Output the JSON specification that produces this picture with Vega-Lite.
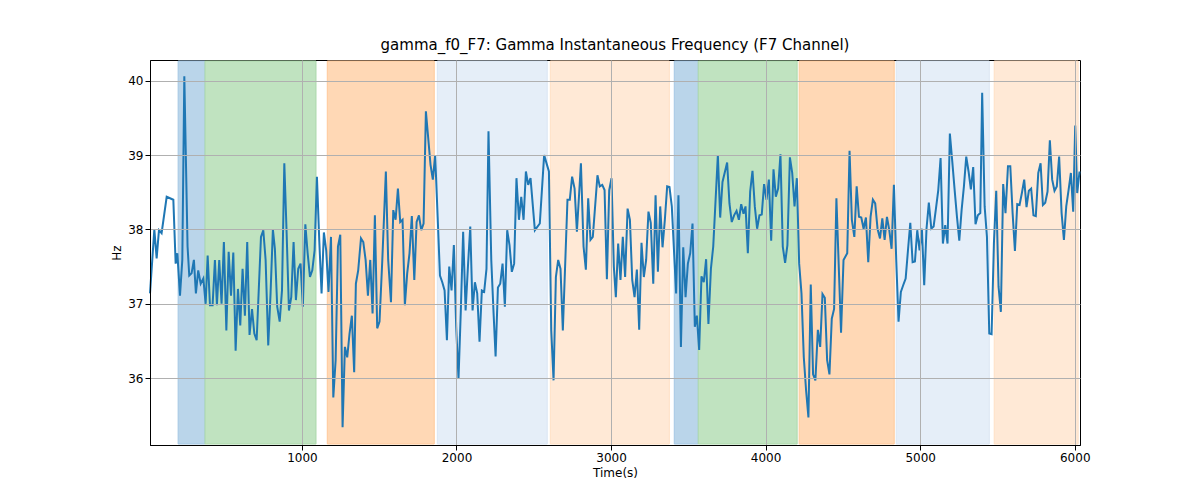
{
  "$schema": "https://vega.github.io/schema/vega-lite/v6.json",
  "width": 930,
  "height": 385,
  "autosize": {"type": "none"},
  "padding": {"left": 150, "top": 60, "right": 120, "bottom": 55},
  "background": "white",
  "title": {"text": "gamma_f0_F7: Gamma Instantaneous Frequency (F7 Channel)", "fontSize": 15, "fontWeight": "normal", "font": "DejaVu Sans", "offset": 7, "color": "black"},
  "config": {
    "view": {"stroke": "black", "strokeWidth": 1},
    "axis": {"font": "DejaVu Sans", "labelFont": "DejaVu Sans", "titleFont": "DejaVu Sans", "labelFontSize": 12, "titleFontSize": 12, "titleFontWeight": "normal", "labelColor": "black", "titleColor": "black", "gridColor": "#b0b0b0", "gridWidth": 1, "gridOpacity": 1, "domainColor": "black", "tickColor": "black"}
  },
  "datasets": {
    "bands": [
      {"start": 199, "end": 373, "phase": "a"},
      {"start": 373, "end": 1091, "phase": "b"},
      {"start": 1164, "end": 1856, "phase": "c"},
      {"start": 1876, "end": 2587, "phase": "d"},
      {"start": 2607, "end": 3377, "phase": "e"},
      {"start": 3409, "end": 3564, "phase": "a"},
      {"start": 3564, "end": 4204, "phase": "b"},
      {"start": 4217, "end": 4832, "phase": "c"},
      {"start": 4845, "end": 5447, "phase": "d"},
      {"start": 5479, "end": 6022, "phase": "e"}
    ],
    "series": [
      {"t":17,"hz":37.14},{"t":45,"hz":38.0},{"t":60,"hz":37.61},{"t":75,"hz":37.99},{"t":92,"hz":37.95},{"t":125,"hz":38.44},{"t":168,"hz":38.4},{"t":183,"hz":37.54},{"t":194,"hz":37.68},{"t":211,"hz":37.11},{"t":226,"hz":37.59},{"t":239,"hz":40.06},{"t":260,"hz":37.77},{"t":271,"hz":37.38},{"t":286,"hz":37.41},{"t":301,"hz":37.59},{"t":314,"hz":37.14},{"t":329,"hz":37.45},{"t":345,"hz":37.27},{"t":362,"hz":37.34},{"t":377,"hz":37.0},{"t":390,"hz":37.65},{"t":405,"hz":36.98},{"t":422,"hz":36.98},{"t":437,"hz":37.59},{"t":450,"hz":36.98},{"t":465,"hz":37.59},{"t":480,"hz":37.0},{"t":495,"hz":37.83},{"t":511,"hz":36.64},{"t":526,"hz":37.7},{"t":541,"hz":37.11},{"t":556,"hz":37.69},{"t":571,"hz":36.37},{"t":586,"hz":37.2},{"t":601,"hz":36.71},{"t":616,"hz":37.47},{"t":631,"hz":36.84},{"t":646,"hz":37.83},{"t":661,"hz":36.58},{"t":677,"hz":36.93},{"t":692,"hz":36.6},{"t":707,"hz":36.51},{"t":735,"hz":37.9},{"t":750,"hz":37.99},{"t":765,"hz":37.59},{"t":782,"hz":36.44},{"t":797,"hz":37.14},{"t":812,"hz":38.0},{"t":825,"hz":37.74},{"t":840,"hz":36.96},{"t":856,"hz":36.76},{"t":871,"hz":37.18},{"t":886,"hz":38.89},{"t":901,"hz":37.95},{"t":916,"hz":36.91},{"t":931,"hz":37.09},{"t":946,"hz":37.83},{"t":961,"hz":37.05},{"t":976,"hz":37.47},{"t":991,"hz":37.54},{"t":1006,"hz":36.96},{"t":1022,"hz":38.07},{"t":1037,"hz":37.68},{"t":1052,"hz":37.36},{"t":1067,"hz":37.45},{"t":1082,"hz":37.72},{"t":1097,"hz":38.71},{"t":1112,"hz":37.86},{"t":1127,"hz":37.14},{"t":1142,"hz":37.96},{"t":1157,"hz":37.72},{"t":1172,"hz":37.16},{"t":1188,"hz":37.9},{"t":1203,"hz":35.74},{"t":1218,"hz":36.24},{"t":1233,"hz":37.77},{"t":1248,"hz":37.93},{"t":1263,"hz":35.34},{"t":1278,"hz":36.42},{"t":1293,"hz":36.28},{"t":1308,"hz":36.6},{"t":1323,"hz":36.84},{"t":1338,"hz":36.08},{"t":1349,"hz":37.27},{"t":1364,"hz":37.45},{"t":1382,"hz":37.88},{"t":1397,"hz":37.83},{"t":1412,"hz":37.59},{"t":1427,"hz":37.11},{"t":1442,"hz":37.59},{"t":1457,"hz":36.87},{"t":1472,"hz":38.19},{"t":1487,"hz":36.67},{"t":1502,"hz":36.76},{"t":1520,"hz":37.59},{"t":1543,"hz":38.78},{"t":1558,"hz":37.59},{"t":1576,"hz":37.02},{"t":1591,"hz":38.26},{"t":1606,"hz":38.13},{"t":1621,"hz":38.55},{"t":1636,"hz":38.1},{"t":1651,"hz":38.13},{"t":1666,"hz":36.98},{"t":1681,"hz":37.41},{"t":1696,"hz":37.68},{"t":1711,"hz":38.18},{"t":1727,"hz":37.32},{"t":1742,"hz":38.1},{"t":1757,"hz":38.19},{"t":1772,"hz":37.99},{"t":1787,"hz":38.08},{"t":1802,"hz":39.59},{"t":1832,"hz":38.87},{"t":1847,"hz":38.67},{"t":1862,"hz":39.0},{"t":1878,"hz":38.17},{"t":1893,"hz":37.38},{"t":1908,"hz":37.29},{"t":1923,"hz":37.18},{"t":1938,"hz":36.51},{"t":1953,"hz":37.5},{"t":1968,"hz":37.18},{"t":1983,"hz":37.79},{"t":1998,"hz":36.69},{"t":2013,"hz":35.99},{"t":2028,"hz":36.91},{"t":2043,"hz":37.97},{"t":2059,"hz":36.91},{"t":2074,"hz":37.5},{"t":2089,"hz":38.04},{"t":2104,"hz":36.91},{"t":2119,"hz":37.29},{"t":2134,"hz":37.14},{"t":2149,"hz":36.49},{"t":2164,"hz":37.18},{"t":2179,"hz":37.16},{"t":2194,"hz":37.47},{"t":2207,"hz":39.32},{"t":2225,"hz":37.59},{"t":2240,"hz":36.87},{"t":2253,"hz":36.29},{"t":2268,"hz":37.22},{"t":2283,"hz":37.27},{"t":2298,"hz":37.54},{"t":2313,"hz":36.96},{"t":2328,"hz":37.99},{"t":2343,"hz":37.79},{"t":2358,"hz":37.43},{"t":2373,"hz":37.54},{"t":2388,"hz":38.69},{"t":2404,"hz":38.13},{"t":2419,"hz":38.44},{"t":2434,"hz":38.13},{"t":2449,"hz":38.78},{"t":2464,"hz":38.6},{"t":2479,"hz":38.69},{"t":2507,"hz":37.99},{"t":2539,"hz":38.08},{"t":2567,"hz":39.0},{"t":2598,"hz":38.78},{"t":2613,"hz":36.64},{"t":2628,"hz":35.97},{"t":2643,"hz":37.36},{"t":2658,"hz":37.59},{"t":2673,"hz":37.47},{"t":2688,"hz":36.64},{"t":2718,"hz":38.4},{"t":2733,"hz":38.4},{"t":2748,"hz":38.71},{"t":2764,"hz":38.55},{"t":2779,"hz":37.97},{"t":2805,"hz":38.89},{"t":2822,"hz":37.77},{"t":2837,"hz":37.46},{"t":2852,"hz":38.42},{"t":2867,"hz":37.86},{"t":2882,"hz":37.9},{"t":2912,"hz":38.73},{"t":2927,"hz":38.58},{"t":2943,"hz":38.6},{"t":2958,"hz":38.53},{"t":2973,"hz":37.33},{"t":2988,"hz":38.53},{"t":3003,"hz":38.69},{"t":3018,"hz":37.5},{"t":3031,"hz":37.09},{"t":3046,"hz":37.81},{"t":3061,"hz":37.32},{"t":3076,"hz":37.9},{"t":3091,"hz":37.36},{"t":3107,"hz":38.28},{"t":3122,"hz":38.13},{"t":3137,"hz":37.32},{"t":3152,"hz":37.09},{"t":3167,"hz":37.46},{"t":3182,"hz":36.65},{"t":3197,"hz":37.82},{"t":3212,"hz":37.36},{"t":3227,"hz":37.59},{"t":3242,"hz":38.24},{"t":3257,"hz":38.09},{"t":3273,"hz":37.27},{"t":3288,"hz":38.46},{"t":3303,"hz":37.43},{"t":3318,"hz":38.31},{"t":3333,"hz":37.76},{"t":3348,"hz":38.13},{"t":3363,"hz":38.58},{"t":3378,"hz":38.57},{"t":3393,"hz":38.31},{"t":3421,"hz":37.14},{"t":3436,"hz":38.46},{"t":3452,"hz":36.42},{"t":3467,"hz":37.76},{"t":3482,"hz":37.09},{"t":3497,"hz":37.54},{"t":3512,"hz":37.68},{"t":3527,"hz":38.08},{"t":3542,"hz":36.69},{"t":3555,"hz":36.84},{"t":3570,"hz":36.38},{"t":3585,"hz":37.37},{"t":3600,"hz":37.29},{"t":3615,"hz":37.6},{"t":3630,"hz":36.73},{"t":3646,"hz":37.47},{"t":3661,"hz":37.77},{"t":3691,"hz":39.0},{"t":3706,"hz":38.16},{"t":3721,"hz":38.64},{"t":3751,"hz":38.9},{"t":3766,"hz":38.35},{"t":3781,"hz":38.1},{"t":3796,"hz":38.19},{"t":3812,"hz":38.25},{"t":3827,"hz":38.13},{"t":3842,"hz":38.34},{"t":3857,"hz":38.21},{"t":3870,"hz":38.31},{"t":3885,"hz":37.68},{"t":3900,"hz":38.51},{"t":3915,"hz":38.79},{"t":3930,"hz":38.31},{"t":3945,"hz":38.01},{"t":3960,"hz":38.19},{"t":3975,"hz":38.2},{"t":3990,"hz":38.61},{"t":4006,"hz":38.4},{"t":4021,"hz":38.67},{"t":4036,"hz":37.85},{"t":4051,"hz":38.81},{"t":4066,"hz":38.44},{"t":4081,"hz":38.55},{"t":4096,"hz":39.01},{"t":4111,"hz":37.77},{"t":4126,"hz":37.55},{"t":4141,"hz":37.79},{"t":4157,"hz":38.97},{"t":4172,"hz":38.76},{"t":4187,"hz":38.31},{"t":4202,"hz":38.69},{"t":4217,"hz":37.54},{"t":4232,"hz":37.14},{"t":4247,"hz":36.28},{"t":4262,"hz":35.83},{"t":4277,"hz":35.47},{"t":4292,"hz":37.26},{"t":4307,"hz":36.05},{"t":4322,"hz":35.97},{"t":4338,"hz":36.65},{"t":4353,"hz":36.42},{"t":4368,"hz":37.13},{"t":4383,"hz":37.08},{"t":4398,"hz":36.24},{"t":4413,"hz":36.05},{"t":4428,"hz":36.8},{"t":4443,"hz":36.93},{"t":4458,"hz":38.42},{"t":4488,"hz":36.61},{"t":4504,"hz":37.59},{"t":4528,"hz":37.68},{"t":4543,"hz":39.06},{"t":4558,"hz":38.13},{"t":4574,"hz":37.9},{"t":4589,"hz":38.58},{"t":4604,"hz":38.17},{"t":4619,"hz":38.16},{"t":4634,"hz":38.01},{"t":4649,"hz":38.16},{"t":4664,"hz":37.56},{"t":4679,"hz":38.17},{"t":4694,"hz":38.4},{"t":4709,"hz":38.35},{"t":4724,"hz":38.01},{"t":4740,"hz":37.88},{"t":4755,"hz":38.15},{"t":4770,"hz":37.86},{"t":4785,"hz":38.17},{"t":4800,"hz":37.99},{"t":4815,"hz":37.74},{"t":4830,"hz":38.6},{"t":4845,"hz":37.59},{"t":4860,"hz":36.76},{"t":4875,"hz":37.16},{"t":4890,"hz":37.25},{"t":4906,"hz":37.34},{"t":4921,"hz":37.72},{"t":4936,"hz":38.09},{"t":4951,"hz":37.56},{"t":4966,"hz":37.57},{"t":4981,"hz":37.99},{"t":4996,"hz":37.72},{"t":5011,"hz":38.01},{"t":5026,"hz":37.25},{"t":5041,"hz":38.01},{"t":5056,"hz":38.36},{"t":5072,"hz":38.01},{"t":5087,"hz":38.04},{"t":5102,"hz":38.28},{"t":5117,"hz":38.53},{"t":5132,"hz":38.96},{"t":5147,"hz":37.81},{"t":5162,"hz":38.06},{"t":5177,"hz":37.81},{"t":5192,"hz":39.29},{"t":5207,"hz":38.93},{"t":5223,"hz":38.53},{"t":5238,"hz":38.17},{"t":5253,"hz":37.85},{"t":5268,"hz":38.26},{"t":5283,"hz":38.58},{"t":5298,"hz":38.98},{"t":5313,"hz":38.78},{"t":5328,"hz":38.54},{"t":5343,"hz":38.84},{"t":5358,"hz":38.07},{"t":5373,"hz":38.19},{"t":5389,"hz":38.22},{"t":5401,"hz":39.84},{"t":5417,"hz":38.31},{"t":5432,"hz":37.9},{"t":5447,"hz":36.6},{"t":5462,"hz":36.59},{"t":5477,"hz":37.81},{"t":5492,"hz":38.52},{"t":5507,"hz":37.23},{"t":5522,"hz":36.89},{"t":5537,"hz":38.61},{"t":5552,"hz":38.22},{"t":5568,"hz":38.85},{"t":5583,"hz":38.85},{"t":5598,"hz":38.22},{"t":5613,"hz":37.71},{"t":5628,"hz":38.34},{"t":5643,"hz":38.33},{"t":5658,"hz":38.49},{"t":5673,"hz":38.67},{"t":5688,"hz":38.3},{"t":5703,"hz":38.52},{"t":5718,"hz":38.55},{"t":5733,"hz":38.19},{"t":5748,"hz":38.18},{"t":5764,"hz":38.76},{"t":5779,"hz":38.89},{"t":5794,"hz":38.33},{"t":5809,"hz":38.36},{"t":5824,"hz":38.51},{"t":5839,"hz":39.2},{"t":5854,"hz":38.67},{"t":5869,"hz":38.52},{"t":5884,"hz":38.58},{"t":5899,"hz":38.98},{"t":5915,"hz":38.22},{"t":5930,"hz":37.86},{"t":5945,"hz":38.31},{"t":5960,"hz":38.53},{"t":5975,"hz":38.76},{"t":5990,"hz":38.24},{"t":6003,"hz":39.4},{"t":6016,"hz":38.49},{"t":6031,"hz":38.78}
    ]
  },
  "layer": [
    {
      "data": {"name": "bands"},
      "mark": {"type": "rect", "strokeWidth": 1, "y": 1, "y2": 384},
      "encoding": {
        "x": {"field": "start", "type": "quantitative", "scale": {"domain": [17, 6034], "nice": false, "zero": false}, "axis": {"grid": true, "zindex": 1, "values": [1000, 2000, 3000, 4000, 5000, 6000], "format": "d", "title": "Time(s)"}},
        "x2": {"field": "end"},
        "color": {"field": "phase", "type": "nominal", "legend": null, "scale": {"domain": ["a", "b", "c", "d", "e"], "range": ["#bad5ea", "#c0e3c0", "#ffd8b5", "#e5eef8", "#ffe9d6"]}},
        "stroke": {"field": "phase", "type": "nominal", "legend": null, "scale": {"domain": ["a", "b", "c", "d", "e"], "range": ["#a5c8e4", "#acd9ab", "#ffc99a", "#dae6f3", "#ffe0c4"]}}
      }
    },
    {
      "data": {"name": "series"},
      "mark": {"type": "line", "color": "#1f77b4", "strokeWidth": 2},
      "encoding": {
        "x": {"field": "t", "type": "quantitative"},
        "y": {"field": "hz", "type": "quantitative", "scale": {"domain": [35.1, 40.28], "nice": false, "zero": false}, "axis": {"grid": true, "zindex": 1, "values": [36, 37, 38, 39, 40], "title": "Hz"}}
      }
    }
  ]
}
